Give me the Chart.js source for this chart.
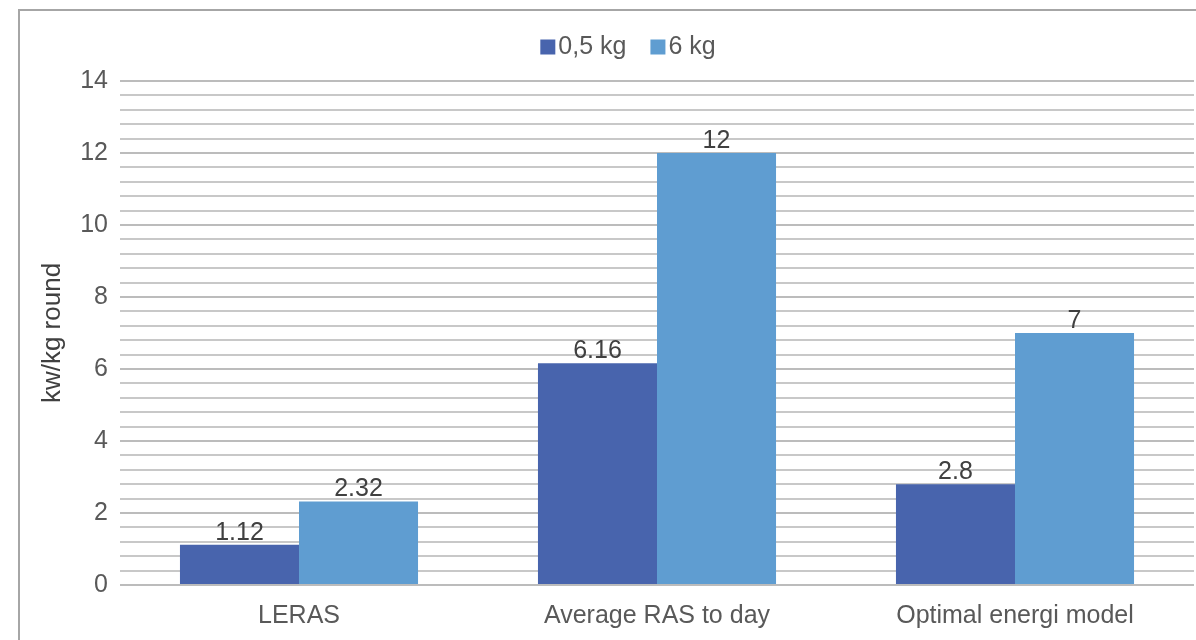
<!DOCTYPE html>
<html lang="en">
<head>
    <meta charset="UTF-8">
    <title>kw/kg round</title>
    <script src="https://cdn.jsdelivr.net/npm/chart.js"></script>
    <style>
        body { margin: 0; background: #fff; overflow: hidden; }
        .frame {
            position: absolute; left: 18px; top: 9px;
            width: 1200px; height: 660px;
            border: 2px solid #a6a6a6; background: #fff;
        }
    </style>
</head>
<body>
    <div class="frame">
        <canvas id="energyChart" width="1180" height="660"></canvas>
    </div>

    <script>
        // chart values
        const categories = ["LERAS", "Average RAS to day", "Optimal energi model"];
        const seriesNames = ["0,5 kg", "6 kg"];
        const small = [1.12, 6.16, 2.8];
        const large = [2.32, 12, 7];
        const yTickLabels = [0, 2, 4, 6, 8, 10, 12, 14];
        const gridStep = 0.4;

        const FONT = "'Liberation Sans', Arial, sans-serif";
        const textColor = "#595959";

        // value above each bar
        const valueLabels = {
            id: "valueLabels",
            afterDatasetsDraw(chart) {
                const ctx = chart.ctx;
                ctx.save();
                ctx.font = "25px " + FONT;
                ctx.fillStyle = "#404040";
                ctx.textAlign = "center";
                ctx.textBaseline = "alphabetic";
                chart.data.datasets.forEach((ds, i) => {
                    chart.getDatasetMeta(i).data.forEach((bar, j) => {
                        ctx.fillText(String(ds.data[j]), bar.x, bar.y - 5);
                    });
                });
                ctx.restore();
            }
        };

        // small legend: square box hugging its text, Excel style
        const boxLegend = {
            id: "boxLegend",
            afterDraw(chart) {
                const ctx = chart.ctx;
                ctx.save();
                ctx.font = "25px " + FONT;
                ctx.textBaseline = "middle";
                const box = 15, gap = 3, between = 24;
                const items = chart.data.datasets.map(ds => ({
                    text: ds.label, color: ds.backgroundColor,
                    w: box + gap + ctx.measureText(ds.label).width
                }));
                const total = items.reduce((s, it) => s + it.w, 0) + between * (items.length - 1);
                let x = chart.width / 2 + 18 - total / 2;
                const y = 36;
                items.forEach(it => {
                    ctx.fillStyle = it.color;
                    ctx.fillRect(x, y - box / 2, box, box);
                    ctx.fillStyle = textColor;
                    ctx.fillText(it.text, x + box + gap, y);
                    x += it.w + between;
                });
                ctx.restore();
            }
        };

        const isMajor = v => yTickLabels.some(t => Math.abs(t - v) < 1e-6);

        new Chart(document.getElementById("energyChart"), {
            type: "bar",
            data: {
                labels: categories,
                datasets: [
                    { label: seriesNames[0], data: small, backgroundColor: "#4864ad" },
                    { label: seriesNames[1], data: large, backgroundColor: "#5f9dd1" }
                ]
            },
            options: {
                responsive: false,
                animation: false,
                layout: { padding: { top: 70, right: 6, left: 0, bottom: 0 } },
                datasets: { bar: { categoryPercentage: 0.665, barPercentage: 1 } },
                plugins: {
                    tooltip: { enabled: false },
                    legend: { display: false }
                },
                scales: {
                    x: {
                        grid: { display: false },
                        border: { display: false },
                        ticks: { color: textColor, font: { family: FONT, size: 25 }, padding: 8 },
                        afterFit(scale) { scale.height = 86; }
                    },
                    y: {
                        min: 0, max: 14,
                        border: { display: false },
                        grid: {
                            drawTicks: false,
                            lineWidth: 2,
                            color: c => isMajor(c.tick.value) ? "#bcbcbc" : "#c8c8c8"
                        },
                        ticks: {
                            stepSize: gridStep,
                            autoSkip: false,
                            color: textColor,
                            font: { family: FONT, size: 25 },
                            padding: 12,
                            callback: v => isMajor(v) ? String(Math.round(v)) : ""
                        },
                        title: {
                            display: true, text: "kw/kg round",
                            color: "#404040",
                            font: { family: FONT, size: 26 },
                            padding: { top: 17, bottom: 0 }
                        },
                        afterFit(scale) { scale.width = 100; }
                    }
                }
            },
            plugins: [valueLabels, boxLegend]
        });
    </script>
</body>
</html>
